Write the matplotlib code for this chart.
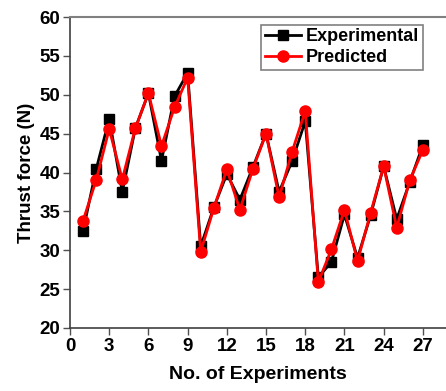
import matplotlib
matplotlib.use('Agg')
import matplotlib.pyplot as plt

plt.rcParams.update({
    'font.family': 'Liberation Sans',
    'font.weight': 'bold',
    'axes.labelweight': 'bold',
})

EXPERIMENTS = list(range(1, 28))
EXPERIMENTAL = [32.5, 40.4, 46.9, 37.5, 45.7, 50.2, 41.5, 49.8, 52.8, 30.5,
                35.5, 39.8, 36.5, 40.7, 45.0, 37.5, 41.5, 46.6, 26.5, 28.5,
                34.6, 29.0, 34.5, 40.8, 34.0, 38.8, 43.5]
PREDICTED = [33.8, 39.0, 45.6, 39.1, 45.7, 50.2, 43.4, 48.4, 52.2, 29.8,
             35.4, 40.4, 35.2, 40.5, 45.0, 36.8, 42.7, 47.9, 25.9, 30.1,
             35.2, 28.6, 34.8, 40.8, 32.9, 39.0, 42.9]
X_TICKS = list(range(0, 28, 3))
Y_TICKS = list(range(20, 61, 5))

fig = plt.figure(figsize=(4.46, 3.91), dpi=100)
ax = fig.add_axes([70 / 446, 63 / 391, 376 / 446, 311 / 391])

ax.plot(EXPERIMENTS, EXPERIMENTAL, color='black', marker='s', markersize=7,
        linewidth=2, label='Experimental', zorder=3)
ax.plot(EXPERIMENTS, PREDICTED, color='red', marker='o', markersize=8,
        linewidth=2, label='Predicted', zorder=4)

ax.set_xlim(0, 28.77)
ax.set_ylim(20, 60)
ax.set_xticks(X_TICKS)
ax.set_yticks(Y_TICKS)
ax.tick_params(labelsize=13.5, direction='out', length=5, width=1,
               color='#505050', pad=2)
ax.spines['right'].set_visible(False)
ax.spines['top'].set_color('#808080')
ax.spines['top'].set_linewidth(1.5)
for side in ('left', 'bottom'):
    ax.spines[side].set_linewidth(1.2)
    ax.spines[side].set_color('#404040')

ax.set_xlabel('No. of Experiments', fontsize=14, labelpad=8)
ax.set_ylabel('Thrust force (N)', fontsize=13.5, labelpad=3)

leg = ax.legend(loc='upper right', bbox_to_anchor=(353 / 376, 0.975),
                borderaxespad=0, fontsize=13, fancybox=False,
                edgecolor='#808080', framealpha=1, borderpad=0.2,
                handlelength=2.0, handletextpad=0.3, labelspacing=0.2)
leg.get_frame().set_linewidth(1.2)

fig.savefig('out.png', dpi=100)
